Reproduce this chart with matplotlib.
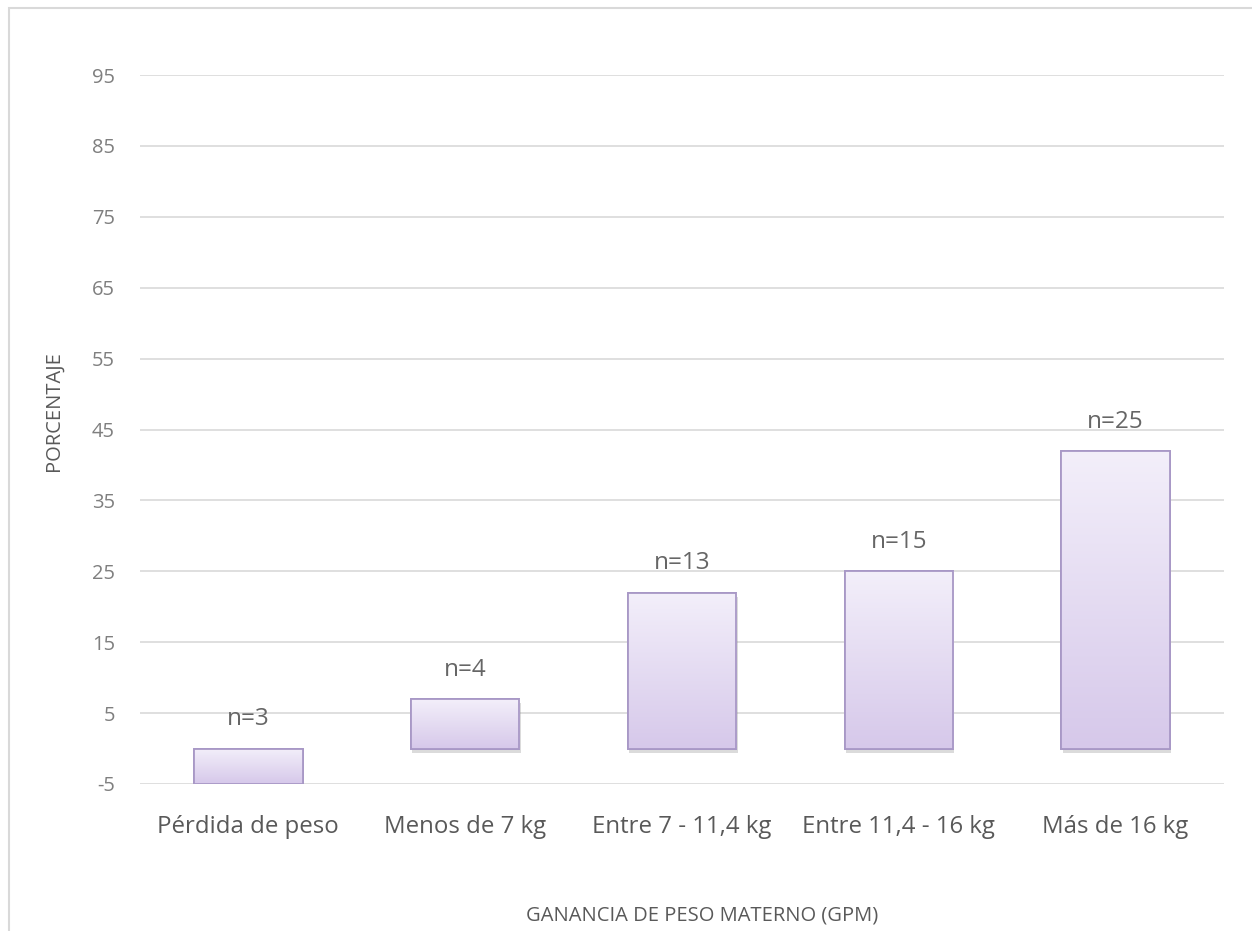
import numpy as np
import matplotlib.pyplot as plt
from matplotlib.patches import Rectangle
from matplotlib.colors import LinearSegmentedColormap
import matplotlib.patheffects as pe

# Datos
categorias = ['Pérdida de peso', 'Menos de 7 kg', 'Entre 7 - 11,4 kg',
              'Entre 11,4 - 16 kg', 'Más de 16 kg']
porcentaje = [-5, 7, 22, 25, 42]
etiquetas = ['n=3', 'n=4', 'n=13', 'n=15', 'n=25']
yticks = [-5, 5, 15, 25, 35, 45, 55, 65, 75, 85, 95]

plt.rcParams['font.family'] = ['Open Sans', 'DejaVu Sans']

fig = plt.figure(figsize=(12.52, 9.31), dpi=100)
ax = fig.add_axes([0.1118, 0.1579, 0.8658, 0.7615])

# marco del gráfico (solo se ven borde izquierdo y superior)
fig.patches.append(Rectangle((9 / 1252, -0.1), 1.2, 1 - 8 / 931 + 0.1,
                             transform=fig.transFigure, fill=False,
                             edgecolor='#d9d9d9', linewidth=1.5))

x = np.arange(len(categorias))
bars = ax.bar(x, porcentaje, width=0.5, color='#e3d9f1', edgecolor='#a898c6',
              linewidth=1.3, zorder=3)

# degradado dentro de cada barra
grad = np.linspace(0, 1, 256).reshape(-1, 1)
cmap = LinearSegmentedColormap.from_list('lila', ['#d6c8ea', '#f3effa'])
for b in bars:
    b.set_path_effects([pe.SimplePatchShadow(offset=(1, -3), shadow_rgbFace='#888888', alpha=0.3),
                        pe.Normal()])
    x0, y0 = b.get_x(), b.get_y()
    w, h = b.get_width(), b.get_height()
    lo, hi = min(y0, y0 + h), max(y0, y0 + h)
    im = ax.imshow(grad, cmap=cmap, origin='lower', aspect='auto',
                   extent=(x0, x0 + w, lo, hi), zorder=3.5)
    im.set_clip_path(b)
    ax.add_patch(Rectangle((x0, lo), w, hi - lo, fill=False,
                           edgecolor='#a898c6', linewidth=1.3, zorder=4))

for xi, v, t in zip(x, porcentaje, etiquetas):
    ax.annotate(t, (xi, max(v, 0)), xytext=(0, 21), textcoords='offset points',
                ha='center', va='center', fontsize=17.5, color='#666666', zorder=5)

ax.set_xlim(-0.5, len(categorias) - 0.5)
ax.set_ylim(-5, 95)
ax.set_yticks(yticks)
ax.set_yticklabels([str(v) for v in yticks])
ax.set_xticks(x)
ax.set_xticklabels(categorias, fontsize=17.3, color='#595959')
ax.tick_params(axis='y', labelsize=14.5, labelcolor='#7f7f7f', length=0, pad=18)
ax.tick_params(axis='x', length=0, pad=22)
ax.grid(axis='y', color='#d9d9d9', linewidth=1.2, zorder=0)
for s in ax.spines.values():
    s.set_visible(False)

ax.set_ylabel('PORCENTAJE', fontsize=14.5, color='#595959')
ax.yaxis.set_label_coords(-0.07, 0.526)
ax.set_xlabel('GANANCIA DE PESO MATERNO (GPM)', fontsize=14.5, color='#595959')
ax.xaxis.set_label_coords(0.519, -0.172)

fig.savefig('out.png', dpi=100)
